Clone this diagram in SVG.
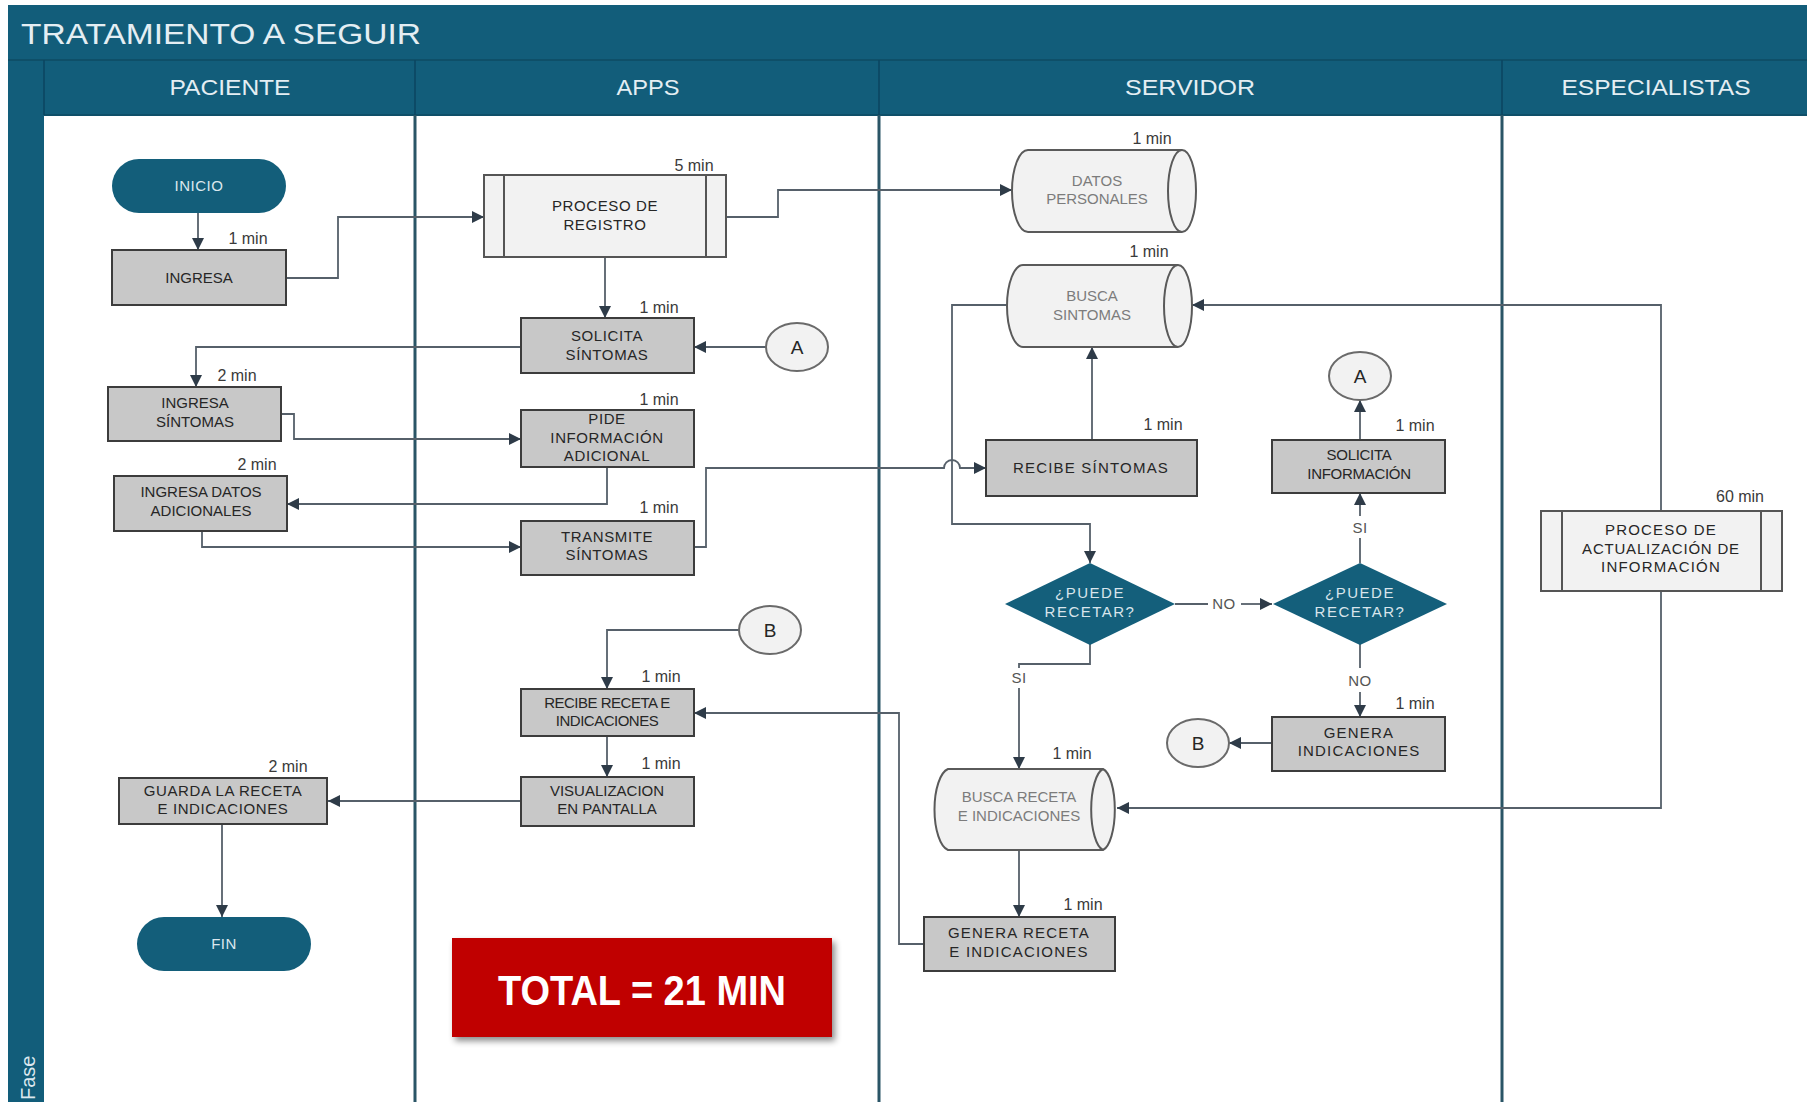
<svg xmlns="http://www.w3.org/2000/svg" width="1807" height="1102" viewBox="0 0 1807 1102">
<style>
.band{fill:#125d7a}
.hdr{fill:#e4eef3;font-family:"Liberation Sans Narrow","Liberation Sans",sans-serif;font-size:22px;text-anchor:middle}
.div{stroke:#2a5566;stroke-width:3}
.proc rect{fill:#c8c8c8;stroke:#3c3c3c;stroke-width:2}
.t{font-family:"Liberation Sans",Arial,sans-serif;font-size:15px;fill:#262626;text-anchor:middle;letter-spacing:0.6px}
.pre rect{fill:#f2f2f2;stroke:#555;stroke-width:2}
.pre line{stroke:#555;stroke-width:2}
.cyl path{fill:#f2f2f2;stroke:#5a5a5a;stroke-width:2}
.ct{font-family:"Liberation Sans",Arial,sans-serif;font-size:15px;fill:#7c7c7c;text-anchor:middle}
.term rect{fill:#135e7a}
.tt{font-family:"Liberation Sans",Arial,sans-serif;font-size:15px;fill:#dbe7ee;text-anchor:middle;letter-spacing:0.5px}
.dec polygon{fill:#145f7b}
.dt{font-family:"Liberation Sans",Arial,sans-serif;font-size:15px;fill:#d9e5ec;text-anchor:middle;letter-spacing:1.5px}
.con ellipse{fill:#f2f2f2;stroke:#6a6a6a;stroke-width:2}
.cxt{font-family:"Liberation Sans",Arial,sans-serif;font-size:19px;fill:#262626;text-anchor:middle}
.min{font-family:"Liberation Sans",Arial,sans-serif;font-size:16px;fill:#3a3a3a;text-anchor:middle}
.lbl{font-family:"Liberation Sans",Arial,sans-serif;font-size:15px;fill:#555;text-anchor:middle;letter-spacing:0.5px}
#connectors path{fill:none;stroke:#56606a;stroke-width:1.8;marker-end:url(#ah)}
#connectors path.nm{marker-end:none}
</style>
<defs>
<marker id="ah" viewBox="0 0 10 10" refX="10" refY="5" markerWidth="13" markerHeight="12" orient="auto" markerUnits="userSpaceOnUse">
<path d="M0,0 L10,5 L0,10 z" fill="#2e3b48"/>
</marker>
<filter id="sh" x="-10%" y="-10%" width="125%" height="130%">
<feDropShadow dx="3" dy="4" stdDeviation="3" flood-color="#000" flood-opacity="0.45"/>
</filter>
</defs>

<rect width="1807" height="1102" fill="#ffffff"/>

<!-- pool / lanes -->
<g id="pool">
<rect class="band" x="8" y="5" width="1799" height="110"/>
<rect class="band" x="8" y="60" width="36" height="1042"/>
<line x1="8" y1="60" x2="1807" y2="60" stroke="#0e4f68" stroke-width="2"/>
<line x1="44" y1="115" x2="1807" y2="115" stroke="#0e4f68" stroke-width="2"/>
<line x1="44" y1="60" x2="44" y2="115" stroke="#0b4560" stroke-width="1.5"/>
<line x1="415" y1="60" x2="415" y2="115" stroke="#0b4560" stroke-width="1.5"/>
<line x1="879" y1="60" x2="879" y2="115" stroke="#0b4560" stroke-width="1.5"/>
<line x1="1502" y1="60" x2="1502" y2="115" stroke="#0b4560" stroke-width="1.5"/>
<line class="div" x1="415" y1="115" x2="415" y2="1102"/>
<line class="div" x1="879" y1="115" x2="879" y2="1102"/>
<line class="div" x1="1502" y1="115" x2="1502" y2="1102"/>
<text x="21" y="44" font-family="Liberation Sans Narrow,Liberation Sans,sans-serif" font-size="30" fill="#e4eef3" textLength="400" lengthAdjust="spacingAndGlyphs">TRATAMIENTO A SEGUIR</text>
<text class="hdr" x="230" y="95" textLength="121" lengthAdjust="spacingAndGlyphs">PACIENTE</text>
<text class="hdr" x="648" y="95" textLength="63" lengthAdjust="spacingAndGlyphs">APPS</text>
<text class="hdr" x="1190" y="95" textLength="130" lengthAdjust="spacingAndGlyphs">SERVIDOR</text>
<text class="hdr" x="1656" y="95" textLength="189" lengthAdjust="spacingAndGlyphs">ESPECIALISTAS</text>
<text x="35" y="1100" transform="rotate(-90 35 1100)" font-family="Liberation Sans,sans-serif" font-size="20" fill="#dbe7ee">Fase</text>
</g>

<!-- connectors -->
<g id="connectors">
<path d="M198,213 V250"/>
<path d="M286,278 H338 V217 H484"/>
<path d="M726,217 H778 V190 H1012"/>
<path d="M605,257 V318"/>
<path d="M766,347 H694"/>
<path d="M521,347 H196 V387"/>
<path d="M281,414 H294 V439 H521"/>
<path d="M607,467 V504 H287"/>
<path d="M202,531 V547 H521"/>
<path d="M694,547 H706 V468 H944 A8,8 0 0 1 960,468 H986"/>
<path d="M1092,440 V347"/>
<path d="M1007,305 H952 V524 H1090 V563"/>
<path class="nm" d="M1175,604 H1208"/>
<path d="M1241,604 H1272"/>
<path class="nm" d="M1360,563 V538"/>
<path d="M1360,516 V493"/>
<path d="M1360,440 V400"/>
<path class="nm" d="M1360,644 V668"/>
<path d="M1360,692 V717"/>
<path d="M1272,743 H1229"/>
<path class="nm" d="M1090,644 V664 H1019 V668"/>
<path d="M1019,688 V769"/>
<path d="M1019,850 V917"/>
<path d="M924,944 H899 V713 H694"/>
<path d="M1661,511 V305 H1192"/>
<path d="M1661,591 V808 H1117"/>
<path d="M739,630 H607 V689"/>
<path d="M607,736 V777"/>
<path d="M521,801 H328"/>
<path d="M222,824 V917"/>
</g>

<!-- connector labels -->
<g id="connector-labels">
<text class="lbl" x="1224" y="609">NO</text>
<text class="lbl" x="1360" y="533">SI</text>
<text class="lbl" x="1360" y="686">NO</text>
<text class="lbl" x="1019" y="683">SI</text>
</g>

<!-- PACIENTE -->
<g id="inicio" class="term"><rect x="112" y="159" width="174" height="54" rx="27"/><text class="tt" x="199" y="191">INICIO</text></g>
<g id="ingresa" class="proc"><rect x="112" y="250" width="174" height="55"/><text class="t" x="199" y="283" style="letter-spacing:0">INGRESA</text><text class="min" x="248" y="244">1 min</text></g>
<g id="ingresa-sintomas" class="proc"><rect x="108" y="387" width="173" height="54"/><text class="t" x="195" y="408" style="letter-spacing:0">INGRESA</text><text class="t" x="195" y="427" style="letter-spacing:0">SÍNTOMAS</text><text class="min" x="237" y="381">2 min</text></g>
<g id="ingresa-datos" class="proc"><rect x="114" y="476" width="173" height="55"/><text class="t" x="201" y="497" style="letter-spacing:0">INGRESA DATOS</text><text class="t" x="201" y="516" style="letter-spacing:0">ADICIONALES</text><text class="min" x="257" y="470">2 min</text></g>
<g id="guarda" class="proc"><rect x="119" y="778" width="208" height="46"/><text class="t" x="223" y="796">GUARDA LA RECETA</text><text class="t" x="223" y="814">E INDICACIONES</text><text class="min" x="288" y="772">2 min</text></g>
<g id="fin" class="term"><rect x="137" y="917" width="174" height="54" rx="27"/><text class="tt" x="224" y="949">FIN</text></g>

<!-- APPS -->
<g id="proceso-registro" class="pre"><rect x="484" y="175" width="242" height="82"/><line x1="504" y1="175" x2="504" y2="257"/><line x1="706" y1="175" x2="706" y2="257"/><text class="t" x="605" y="211">PROCESO DE</text><text class="t" x="605" y="230">REGISTRO</text><text class="min" x="694" y="171">5 min</text></g>
<g id="solicita-sintomas" class="proc"><rect x="521" y="318" width="173" height="55"/><text class="t" x="607" y="341">SOLICITA</text><text class="t" x="607" y="360">SÍNTOMAS</text><text class="min" x="659" y="313">1 min</text></g>
<g id="conector-a1" class="con"><ellipse cx="797" cy="347" rx="31" ry="24"/><text class="cxt" x="797" y="354">A</text></g>
<g id="pide-info" class="proc"><rect x="521" y="410" width="173" height="57"/><text class="t" x="607" y="424">PIDE</text><text class="t" x="607" y="443">INFORMACIÓN</text><text class="t" x="607" y="461">ADICIONAL</text><text class="min" x="659" y="405">1 min</text></g>
<g id="transmite" class="proc"><rect x="521" y="521" width="173" height="54"/><text class="t" x="607" y="542">TRANSMITE</text><text class="t" x="607" y="560">SÍNTOMAS</text><text class="min" x="659" y="513">1 min</text></g>
<g id="conector-b1" class="con"><ellipse cx="770" cy="630" rx="31" ry="24"/><text class="cxt" x="770" y="637">B</text></g>
<g id="recibe-receta" class="proc"><rect x="521" y="689" width="173" height="47"/><text class="t" x="607" y="708" style="letter-spacing:-0.5px">RECIBE RECETA E</text><text class="t" x="607" y="726" style="letter-spacing:-0.5px">INDICACIONES</text><text class="min" x="661" y="682">1 min</text></g>
<g id="visualizacion" class="proc"><rect x="521" y="777" width="173" height="49"/><text class="t" x="607" y="796" style="letter-spacing:0">VISUALIZACION</text><text class="t" x="607" y="814" style="letter-spacing:0">EN PANTALLA</text><text class="min" x="661" y="769">1 min</text></g>
<g id="total"><rect x="452" y="938" width="380" height="99" fill="#c00000" filter="url(#sh)"/><text x="642" y="1005" font-family="Liberation Sans Narrow,Liberation Sans,sans-serif" font-weight="bold" font-size="42" fill="#ffffff" text-anchor="middle" textLength="288" lengthAdjust="spacingAndGlyphs">TOTAL = 21 MIN</text></g>

<!-- SERVIDOR -->
<g id="datos-personales" class="cyl"><path d="M1028,150 H1182 A14,41 0 0 1 1182,232 H1028 A16,41 0 0 1 1028,150 Z"/><path d="M1182,150 A14,41 0 0 0 1182,232"/><text class="ct" x="1097" y="186">DATOS</text><text class="ct" x="1097" y="204">PERSONALES</text><text class="min" x="1152" y="144">1 min</text></g>
<g id="busca-sintomas" class="cyl"><path d="M1023,265 H1178 A14,41 0 0 1 1178,347 H1023 A16,41 0 0 1 1023,265 Z"/><path d="M1178,265 A14,41 0 0 0 1178,347"/><text class="ct" x="1092" y="301">BUSCA</text><text class="ct" x="1092" y="320">SINTOMAS</text><text class="min" x="1149" y="257">1 min</text></g>
<g id="recibe-sintomas" class="proc"><rect x="986" y="440" width="211" height="56"/><text class="t" x="1091" y="473" style="letter-spacing:1.2px">RECIBE SÍNTOMAS</text><text class="min" x="1163" y="430">1 min</text></g>
<g id="puede-recetar-1" class="dec"><polygon points="1005,604 1090,563 1175,604 1090,645"/><text class="dt" x="1090" y="598">¿PUEDE</text><text class="dt" x="1090" y="617">RECETAR?</text></g>
<g id="puede-recetar-2" class="dec"><polygon points="1273,604 1360,563 1447,604 1360,645"/><text class="dt" x="1360" y="598">¿PUEDE</text><text class="dt" x="1360" y="617">RECETAR?</text></g>
<g id="solicita-info" class="proc"><rect x="1272" y="440" width="173" height="53"/><text class="t" x="1359" y="460" style="letter-spacing:-0.3px">SOLICITA</text><text class="t" x="1359" y="479" style="letter-spacing:-0.3px">INFORMACIÓN</text><text class="min" x="1415" y="431">1 min</text></g>
<g id="conector-a2" class="con"><ellipse cx="1360" cy="376" rx="31" ry="24"/><text class="cxt" x="1360" y="383">A</text></g>
<g id="genera-indicaciones" class="proc"><rect x="1272" y="717" width="173" height="54"/><text class="t" x="1359" y="738" style="letter-spacing:1.2px">GENERA</text><text class="t" x="1359" y="756" style="letter-spacing:1.2px">INDICACIONES</text><text class="min" x="1415" y="709">1 min</text></g>
<g id="conector-b2" class="con"><ellipse cx="1198" cy="743" rx="31" ry="24"/><text class="cxt" x="1198" y="750">B</text></g>
<g id="busca-receta" class="cyl"><path d="M948,769 H1103 A14,41 0 0 1 1103,850 H948 A16,41 0 0 1 948,769 Z"/><path d="M1103,769 A14,41 0 0 0 1103,850"/><text class="ct" x="1019" y="802">BUSCA RECETA</text><text class="ct" x="1019" y="821">E INDICACIONES</text><text class="min" x="1072" y="759">1 min</text></g>
<g id="genera-receta" class="proc"><rect x="924" y="917" width="191" height="54"/><text class="t" x="1019" y="938" style="letter-spacing:1.2px">GENERA RECETA</text><text class="t" x="1019" y="957" style="letter-spacing:1.2px">E INDICACIONES</text><text class="min" x="1083" y="910">1 min</text></g>

<!-- ESPECIALISTAS -->
<g id="proceso-actualizacion" class="pre"><rect x="1541" y="511" width="241" height="80"/><line x1="1562" y1="511" x2="1562" y2="591"/><line x1="1761" y1="511" x2="1761" y2="591"/><text class="t" x="1661" y="535" style="letter-spacing:1.2px">PROCESO DE</text><text class="t" x="1661" y="554" style="letter-spacing:0.8px">ACTUALIZACIÓN DE</text><text class="t" x="1661" y="572" style="letter-spacing:1.2px">INFORMACIÓN</text><text class="min" x="1740" y="502">60 min</text></g>
</svg>
